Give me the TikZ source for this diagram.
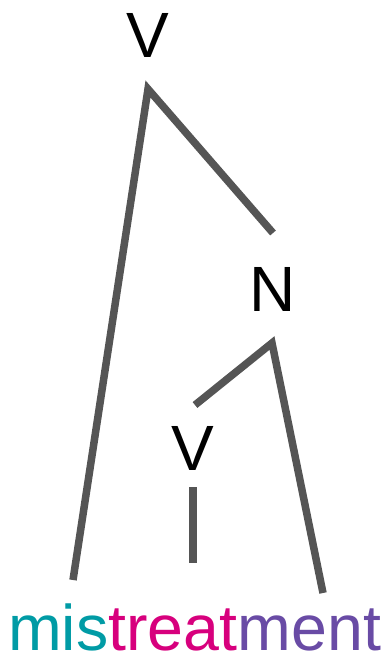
\documentclass[tikz,border=0pt]{standalone}
\usepackage{fontspec}
\setmainfont{Liberation Sans}
\usepackage{xcolor}
\definecolor{prefteal}{RGB}{0, 155, 165}
\definecolor{rootpink}{RGB}{215, 0, 125}
\definecolor{sufpurple}{RGB}{105, 75, 165}
\definecolor{branchgray}{RGB}{85, 85, 85}

\begin{document}
\begin{tikzpicture}[x=1pt, y=-1pt,
    cat/.style={anchor=base, inner sep=0pt, font=\fontsize{64}{64}\selectfont},
    branch/.style={draw=branchgray, line width=7.5pt, line join=miter}]
    \useasboundingbox (0,0) rectangle (382,659);
    % category labels
    \node[cat] (vtop) at (148,57) {V};
    \node[cat] (nmid) at (273,311) {N};
    \node[cat] (vlow) at (193,470) {V};
    % the word
    \node[cat, anchor=base west, font=\fontsize{64.5}{64.5}\selectfont] (word) at (8,650)
      {\textcolor{prefteal}{mis}\textcolor{rootpink}{treat}\textcolor{sufpurple}{ment}};
    % branch points
    \coordinate (vjoin) at (148,89);
    \coordinate (njoin) at (272,343);
    \coordinate (nup) at (273,233);
    \coordinate (vup) at (195,405);
    \coordinate (misend) at (73,580);
    \coordinate (mentend) at (323,593);
    \coordinate (vtopend) at (193,487);
    \coordinate (treatend) at (193,563);
    \path[branch] (misend) -- (vjoin) -- (nup);
    \path[branch] (vup) -- (njoin) -- (mentend);
    \path[branch] (vtopend) -- (treatend);
  \end{tikzpicture}
\end{document}
